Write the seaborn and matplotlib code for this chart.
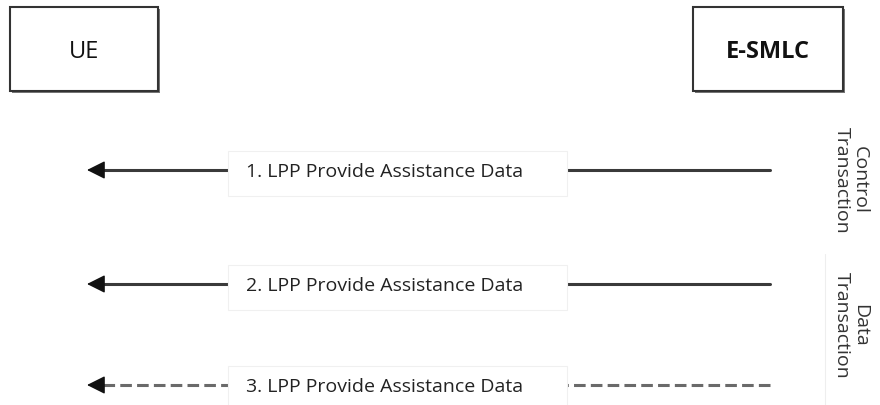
import matplotlib
matplotlib.use("Agg")
import matplotlib.pyplot as plt
import seaborn as sns
import pandas as pd

# participants and messages of the sequence diagram
participants = ["UE", "E-SMLC"]
messages = ["1. LPP Provide Assistance Data",
            "2. LPP Provide Assistance Data",
            "3. LPP Provide Assistance Data"]
message_dashed = [False, False, True]
transactions = ["Control\nTransaction", "Data\nTransaction"]

sns.set_theme(style="white")
plt.rcParams["font.family"] = ["Open Sans", "DejaVu Sans"]

fig = plt.figure(figsize=(8.8, 4.06), dpi=100)
ax = fig.add_axes([0, 0, 1, 1])
ax.set_xlim(0, 880)
ax.set_ylim(406, 0)
ax.axis("off")

# participant boxes
box_x = [(10, 158), (693, 843)]
for (x0, x1), name, bold in zip(box_x, participants, [False, True]):
    ax.add_patch(plt.Rectangle((x0 + 2, 10), x1 - x0, 84, fc="#777777", ec="none"))
    ax.add_patch(plt.Rectangle((x0, 8), x1 - x0, 84, fc="white", ec="#333333", lw=1.5))
    ax.text((x0 + x1) / 2, 52, name, ha="center", va="center", fontsize=17,
            fontweight="bold" if bold else "normal", color="#111111")

# message arrows (right to left)
row_y = [171, 285, 386]
x_start, x_end = 770, 87
for y, label, dashed in zip(row_y, messages, message_dashed):
    df = pd.DataFrame({"x": [x_start, x_end + 10], "y": [y, y]})
    sns.lineplot(data=df, x="x", y="y", ax=ax,
                 color="#6a6a6a" if dashed else "#3a3a3a", lw=2.2,
                 linestyle=(0, (3.8, 1.7)) if dashed else "-", sort=False,
                 legend=False, zorder=1)
    ax.annotate("", xy=(x_end, y), xytext=(x_end + 16, y),
                arrowprops=dict(arrowstyle="-|>", color="#111111", lw=1.0,
                                mutation_scale=28, shrinkA=0, shrinkB=0))
    ax.add_patch(plt.Rectangle((228, y - 19), 339, 45,
                               fc="white", ec="#f0f0f0", lw=0.8, zorder=3))
    ax.text(385, y + 1, label, ha="center", va="center", fontsize=14,
            color="#222222", zorder=4)

# transaction labels on the right
ax.plot([825, 825], [255, 406], color="#eeeeee", lw=0.8)
for yc, lab in zip([180, 325], transactions):
    ax.text(851, yc, lab, ha="center", va="center", rotation=-90, fontsize=14,
            color="#333333", linespacing=0.95)

ax.set_xlabel("")
ax.set_ylabel("")
fig.savefig("out.png", dpi=100)
